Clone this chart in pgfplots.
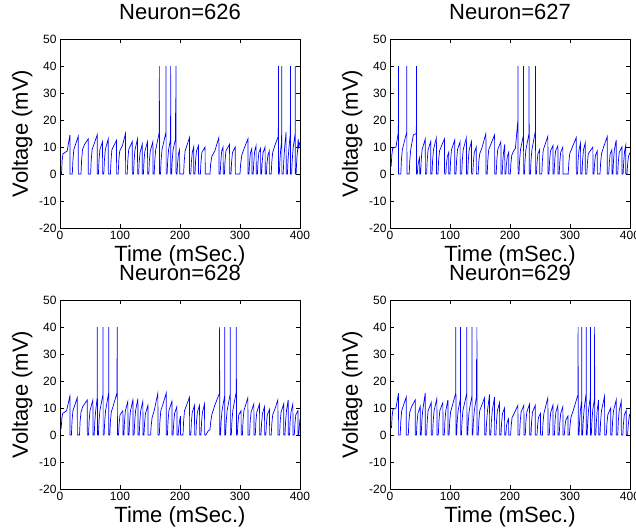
\documentclass[border=0pt]{standalone}
\usepackage{fontspec}
\setmainfont{Liberation Sans}
\usepackage{pgfplots}
\pgfplotsset{compat=1.18}

\pgfplotsset{neuron/.style={
    width=240bp, height=189bp, scale only axis,
    anchor=north west,
    xmin=0, xmax=400, ymin=-20, ymax=50,
    xtick={0,100,200,300,400},
    ytick={-20,-10,0,10,20,30,40,50},
    tick align=inside,
    major tick length=4bp,
    no markers,
    /pgf/number format/assume math mode=true,
    tick label style={font=\fontsize{12bp}{14bp}\selectfont},
    axis line style={line width=0.6bp},
    every tick/.style={line width=0.6bp, black},
    xlabel={Time (mSec.)},
    ylabel={Voltage (mV)},
    label style={font=\fontsize{22bp}{26bp}\selectfont},
    xlabel style={at={(axis description cs:0.5,-0.148)}, anchor=center},
    ylabel style={at={(axis description cs:-0.158,0.5)}, anchor=center},
    title style={at={(axis description cs:0.5,1.111)}, anchor=center,
                 font=\fontsize{22bp}{26bp}\selectfont},
    every axis plot/.append style={color=blue, line width=0.7bp},
}}

\begin{document}
\begin{tikzpicture}
\path[use as bounding box] (0,0) rectangle (636bp,-531bp);

% Neuron 626
\begin{axis}[neuron, at={(60bp,-39bp)}, title={Neuron=626}]
\addplot coordinates {
(0,0)(2.5,0)(3.5,5)(5,7.5)(12,8.5)(16.5,14.5)(16.7,0)
(20.5,0)(21.5,5)(23,9)(30.4,14)(30.6,0)
(35,0)(36,5)(37.5,9)(41,11)(47,13)(47.2,0)
(51,0)(52,5)(53.5,9)(62,14.5)(62.2,0)
(64,0)(65,5)(66.5,9)(70.9,12)(71.1,0)
(73,0)(74,5)(75.5,9)(80.4,13)(80.6,0)
(84,0)(85,5)(86.5,9)(94.2,12.5)(94.4,0)
(97,0)(98,5)(99.5,8.5)(104,10.5)(109.2,15)(109.4,0)
(112,0)(113,5)(114.5,9)(120.4,12)(120.6,0)
(122.5,0)(123.5,5)(125,9)(129.2,13)(129.4,0)
(131,0)(132,4.5)(133.5,8)(137,11)(137.2,0)
(139,0)(140,5)(141.5,8.5)(145.9,12)(146.1,0)
(148,0)(149,5)(150.5,8.5)(154.8,12)(155,0)
(157,0)(158,5)(159.5,9)(165.5,15.5)(165.6,40)(165.8,0)
(167.5,0)(168.5,5)(170,9)(176.6,15.5)(176.7,40)(176.9,0)
(178.5,0)(179.5,5)(181,9)(184.3,13)(184.4,40)(184.6,0)
(186,0)(187,5)(188.5,9)(192.6,13)(192.7,28)(192.9,12)(193.2,14)(193.3,40)(193.5,0)
(195,0)(196,4)(197.5,7.5)(199.3,9)(199.5,0)
(206,0)(207,4.5)(208.5,8.5)(215.8,13.5)(216,0)
(218,0)(219,4.5)(220.5,8)(222.8,10)(223,0)
(225,0)(226,5)(227.5,8.5)(230.8,10.5)(231,0)
(234,0)(235,4.5)(236.5,8)(241.8,10)(242,0)
(250,0)(251,3.5)(253,6.5)(258,8.5)(264.8,13.5)(265,0)
(267,0)(268,4.5)(269.5,8.5)(271.8,10)(272,0)
(274,0)(275,4.5)(276.5,8.5)(282.6,11)(282.8,0)
(285,0)(286,4.5)(287.5,8)(292.1,10)(292.3,0)
(300,0)(301,3.5)(303,7)(307,9.5)(313.2,13)(313.4,0)
(315,0)(316,4.5)(317.5,8)(319.8,9.5)(320,0)
(322,0)(323,4.5)(324.5,8.5)(326.8,10.5)(327,0)
(329,0)(330,4.5)(331.5,8)(334.3,9.5)(334.5,0)
(336,0)(337,4.5)(338.5,8)(341.8,10)(342,0)
(344,0)(345,4)(346.5,7)(348.8,8.5)(349,0)
(352,0)(353,4.5)(354.5,8)(358,10.5)(363.9,14)(364,40)(364.2,0)
(365.5,0)(366.5,5)(368,9.5)(369.3,12)(369.4,20)(369.5,12)(369.6,40)(369.8,0)
(372,0)(373,5)(374.5,10)(376.8,15.5)(377,0)
(379,0)(380,5)(381.5,9.5)(383.9,15)(384,40)(384.2,0)
(386,0)(387,5)(388.5,9.5)(391.9,15)(392,40)(392.2,0)
(393.5,0)(394.5,5)(396,9)(397,13)(398,10)(400,12)
};
\end{axis}

% Neuron 627
\begin{axis}[neuron, at={(390bp,-39bp)}, title={Neuron=627}]
\addplot coordinates {
(0,3)(2,3)(3,7)(4.5,9.5)(10,10)(13.9,15.5)(14,40)(14.2,0)
(18,0)(19,5)(20.5,9)(27.9,15.5)(28,40)(28.2,0)
(32,0)(33,5)(34.5,9)(39,14.5)(43.9,15)(44,40)(44.2,0)
(45.5,0)(46.5,3)(48,5)(49.3,6)(49.5,0)
(51,0)(52,5)(53.5,9)(58.8,13)(59,0)
(61,0)(62,5)(63.5,9)(67.8,12)(68,0)
(70,0)(71,5)(72.5,9)(77.3,13.5)(77.5,0)
(80,0)(81,5)(82.5,8.5)(86,10.5)(90.8,13)(91,0)
(93,0)(94,3.5)(95.5,6.5)(97.8,8)(98,0)
(100,0)(101,5)(102.5,9)(107.8,12.5)(108,0)
(110,0)(111,5)(112.5,9)(116.8,12)(117,0)
(119.5,0)(120.5,5)(122,9)(127.3,13.5)(127.5,0)
(129.5,0)(130.5,5)(132,9)(135.8,12)(136,0)
(138,0)(139,4.5)(140.5,8)(143.8,10)(144,0)
(147,0)(148,4.5)(149.5,7.5)(153,9.5)(159.8,15)(160,0)
(162,0)(163,5)(164.5,9)(168,11)(174.3,14.5)(174.5,0)
(177,0)(178,5)(179.5,9)(184.8,12)(185,0)
(187,0)(188,5)(189.5,8.5)(191.3,11)(191.5,0)
(193,0)(194,3.5)(195.5,6.5)(197.8,8)(198,0)
(200.5,0)(201.5,4)(203,7)(206,8.5)(209,9.5)(213.2,20)(213.3,40)(213.5,0)
(215,0)(216,5)(217.5,9)(222.4,14.5)(222.5,40)(222.7,0)
(224,0)(225,5)(226.5,9)(231.7,15)(231.8,40)(232,0)
(234,0)(235,5)(236.5,9)(242.4,16)(242.5,40)(242.7,0)
(244,0)(245,4)(246.5,7.5)(249.3,9)(249.5,0)
(253,0)(254,5)(255.5,9)(263.1,14)(263.3,0)
(265,0)(266,5)(267.5,8.5)(271.5,10.5)(271.7,0)
(273.5,0)(274.5,5)(276,8.5)(279.8,10.5)(280,0)
(282,0)(283,4.5)(284.5,8)(288.1,10)(288.3,0)
(297,0)(298,4)(299.5,7.5)(304,10)(310.4,13.5)(310.6,0)
(312.5,0)(313.5,5)(315,9)(317.6,11.5)(317.8,0)
(320,0)(321,5)(322.5,9)(325.4,11.5)(325.6,0)
(328,0)(329,4)(330.5,7.5)(338.1,10)(338.3,0)
(340,0)(341,4)(342.5,7)(345.4,8.5)(345.6,0)
(350,0)(351,4)(352.5,7.5)(356,10)(362,13.8)(362.2,0)
(364.5,0)(365.5,4)(367,7.5)(369.8,9)(370,0)
(371.5,0)(372.5,5)(374,9)(377,12.6)(377.2,0)
(379.5,0)(380.5,4.5)(382,8)(386.5,10)(386.7,0)
(388.5,0)(389.5,4.5)(391,8.5)(392.8,10.5)(393,0)
(395,0)(396,3.5)(397.5,6.5)(400,8)
};
\end{axis}

% Neuron 628
\begin{axis}[neuron, at={(60bp,-300bp)}, title={Neuron=628}]
\addplot coordinates {
(0,2.5)(2,2.5)(3,6)(4.5,8)(11,9)(16.5,14.5)(16.7,0)
(19,0)(20,5)(21.5,9)(28.8,13.8)(29,0)
(32.5,0)(33.5,5)(35,8.5)(38,10.5)(45.4,13)(45.6,0)
(47.5,0)(48.5,5)(50,9)(54.8,13)(55,0)
(57,0)(58,5)(59.5,9)(62.1,14)(62.2,40)(62.4,0)
(64,0)(65,5)(66.5,9)(71.6,15)(71.7,40)(71.9,0)
(73.5,0)(74.5,5)(76,9)(81,15.5)(81.1,40)(81.3,0)
(83,0)(84,5)(85.5,8.5)(89,11)(94.8,15.5)(94.9,28.5)(95.1,14)(95.4,15.5)(95.5,40)(95.7,0)
(97.5,0)(98.5,4)(100,7.5)(104.8,9)(105,0)
(106.5,0)(107.5,5)(109,9)(113.1,12.5)(113.3,0)
(115,0)(116,5)(117.5,9)(121.5,13)(121.7,0)
(123.5,0)(124.5,5)(126,9)(129.8,13.5)(130,0)
(132,0)(133,5)(134.5,9)(138.1,12.5)(138.3,0)
(140,0)(141,4.5)(142.5,8)(146.5,11)(146.7,0)
(151,0)(152,3.5)(153.5,6.5)(157,9)(163.1,15.5)(163.3,0)
(165.5,0)(166.5,5)(168,9)(171,11)(177,15.5)(177.2,0)
(179,0)(180,5)(181.5,9)(186.5,12.5)(186.7,0)
(188.5,0)(189.5,4.5)(191,8)(194.8,10.5)(195,0)
(197,0)(198,3)(199.5,5.5)(200.8,7)(201,0)
(205,0)(206,5)(207.5,9)(215.9,14)(216.1,0)
(218,0)(219,5)(220.5,8.5)(224.2,11)(224.4,0)
(226.5,0)(227.5,5)(229,8.5)(232.6,11)(232.8,0)
(235,0)(236,5)(237.5,8.5)(240.9,11.5)(241.1,0)
(243,0)(247,1.5)(250,2)(251,4.5)(253,7.5)(258,11)(265.9,15.5)(266,40)(266.2,0)
(267.5,0)(268.5,5)(270,9)(274.4,14.5)(274.5,40)(274.7,0)
(276,0)(277,5)(278.5,9)(283.5,15)(283.6,20.5)(283.7,15)(283.8,40)(284,0)
(285.5,0)(286.5,5)(288,9)(293.8,16)(293.9,40)(294.1,0)
(295.5,0)(296.5,4)(298,7.5)(301.8,9)(302,0)
(304,0)(305,5)(306.5,9)(313.1,13.8)(313.3,0)
(316,0)(317,5)(318.5,8.5)(323.1,11.5)(323.3,0)
(325.5,0)(326.5,5)(328,8.5)(332.6,11.5)(332.8,0)
(335,0)(336,4.5)(337.5,8)(340.9,10.5)(341.1,0)
(343,0)(344,4)(345.5,7.5)(349.2,9.5)(349.4,0)
(352,0)(353,4)(354.5,7.5)(358,9.5)(363.1,13)(363.3,0)
(366,0)(367,5)(368.5,8.5)(372.8,11.5)(373,0)
(375,0)(376,5)(377.5,9)(380.3,13)(380.5,0)
(382.5,0)(383.5,5)(385,8.5)(388.1,11.5)(388.3,0)
(390.5,0)(391.5,4)(393,7.5)(396.5,9)(396.7,0)
(398,0)(399,3.5)(400,6)
};
\end{axis}

% Neuron 629
\begin{axis}[neuron, at={(390bp,-300bp)}, title={Neuron=629}]
\addplot coordinates {
(0,2.7)(2.5,2.7)(3.5,7)(5,9.5)(10,10)(14.2,15.5)(14.4,0)
(17,0)(18,5)(19.5,9)(27,14)(27.2,0)
(30.5,0)(31.5,5)(33,8.5)(36,10.5)(42,13)(42.2,0)
(44,0)(45,4.5)(46.5,8)(50.3,10.5)(50.5,0)
(52,0)(53,5)(54.5,9)(58.7,15.5)(58.9,0)
(61,0)(62,5)(63.5,9)(68.7,12)(68.9,0)
(71,0)(72,5)(73.5,9)(78.1,13.5)(78.3,0)
(80.5,0)(81.5,5)(83,9)(88.1,12)(88.3,0)
(90.5,0)(91.5,5)(93,9)(96.5,13)(96.7,0)
(98.5,0)(99.5,5)(101,8.5)(104,11)(109.6,15.5)(109.7,40)(109.9,0)
(111,0)(112,5)(113.5,9)(117.4,13.5)(117.5,40)(117.7,0)
(119,0)(120,5)(121.5,9)(127.9,15.5)(128,40)(128.2,0)
(129.5,0)(130.5,5)(132,9)(136.6,14.5)(136.7,40)(136.9,0)
(138,0)(139,5)(140.5,9)(144,14)(144.1,28)(144.3,13)(144.7,14)(144.8,40)(145,0)
(147,0)(148,5)(149.5,9)(157.6,13.8)(157.8,0)
(160,0)(161,5)(162.5,9)(165.9,15)(166.1,0)
(168,0)(169,5)(170.5,9)(174.2,14)(174.4,0)
(176.5,0)(177.5,5)(179,9)(182.6,12)(182.8,0)
(185,0)(186,4.5)(187.5,8)(190.9,10)(191.1,0)
(193,0)(194,3)(195.5,5)(197.6,6)(197.8,0)
(201,0)(202,3.5)(203.5,6.5)(207,8)(213.1,11)(213.3,0)
(216,0)(217,5)(218.5,8.5)(223.1,11)(223.3,0)
(225.5,0)(226.5,5)(228,8.5)(232.6,11.5)(232.8,0)
(235,0)(236,5)(237.5,8.5)(242,11)(242.2,0)
(245,0)(246,3.5)(247.5,6.5)(250.8,8)(251,0)
(254,0)(255,4.5)(256.5,8)(263.1,13.8)(263.3,0)
(265.5,0)(266.5,5)(268,8.5)(271.5,11)(271.7,0)
(274,0)(275,5)(276.5,8.5)(279.8,11)(280,0)
(282,0)(283,4.5)(284.5,8)(288.1,10.5)(288.3,0)
(290.5,0)(291.5,3)(293,5.5)(296.5,7)(296.7,0)
(299,0)(300,3.5)(301.5,6.5)(306,9.5)(313.4,15)(313.5,40)(313.7,0)
(315,0)(316,5)(317.5,9.5)(319.4,12.5)(319.5,40)(319.7,0)
(321,0)(322,5)(323.5,9.5)(326.9,15.5)(327,40)(327.2,0)
(328.5,0)(329.5,5)(331,9.5)(333.9,14)(334,40)(334.2,0)
(335.5,0)(336.5,5)(338,9.5)(340.9,13.5)(341,40)(341.2,0)
(343,0)(344,5)(345.5,9.5)(347.6,13)(347.8,0)
(350,0)(351,5)(352.5,9)(357.6,14.4)(357.8,0)
(360.5,0)(361.5,4)(363,7.5)(367.8,10)(368,0)
(370,0)(371,5)(372.5,9)(377,13)(377.2,0)
(379.5,0)(380.5,5)(382,9)(385.4,12.5)(385.6,0)
(388,0)(389,4)(390.5,7.5)(393.7,9)(393.9,0)
(396,0)(397,3.5)(398.5,6.5)(400,8)
};
\end{axis}
\end{tikzpicture}
\end{document}
